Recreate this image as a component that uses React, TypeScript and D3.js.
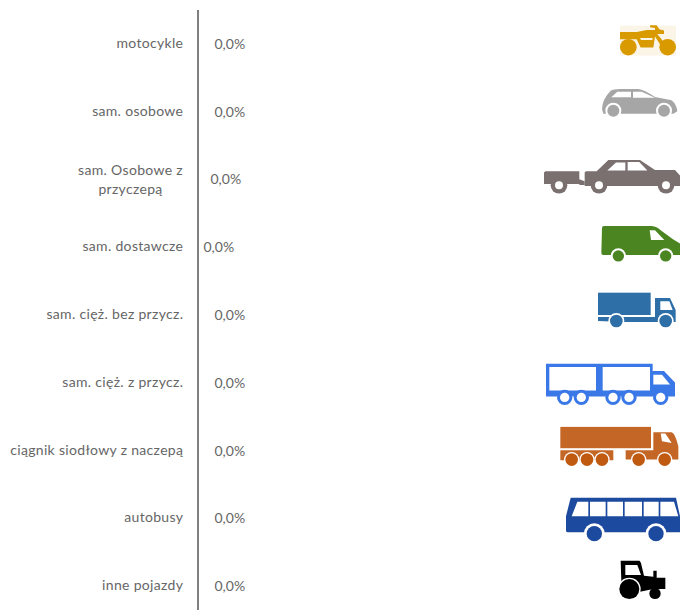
import React from "react";
import * as d3 from "d3";

const categories = [
  "motocykle",
  "sam. osobowe",
  "sam. Osobowe z przyczepą",
  "sam. dostawcze",
  "sam. cięż. bez przycz.",
  "sam. cięż. z przycz.",
  "ciągnik siodłowy z naczepą",
  "autobusy",
  "inne pojazdy",
];
const values = [0, 0, 0, 0, 0, 0, 0, 0, 0];
const wrappedLabels: Record<string, string[]> = {
  "sam. Osobowe z przyczepą": ["sam. Osobowe z", "przyczepą"],
};

const W = 680;
const H = 610;
const TEXT = "#666666";
const FONT = "Lato, Carlito, sans-serif";
const valueNudge = [0, 0, -4, -11, 0, 0, 0, 0, 0];
const iconDy = [-34, -102, -169.5, -37, -105, -173, -41, -108, -176];

type C = { x: number; y: number; r: number; f: string };
const ring = (x: number, y: number, outer: number, inner: number, a: string, b: string): C[] => [
  { x, y, r: outer, f: a },
  { x, y, r: inner, f: b },
];

function Icon({ i }: { i: number }) {
  const W_ = "#fff";
  if (i === 0) {
    const c = "#d99a00";
    return (
      <g>
        <rect x={240} y={47} width={168} height={90} fill="#fbf5e8" />
        <path fill={c} d="M240 66 H290 L320 60 L345 60 V54 L330 52 V46 H350 L358 58 L372 62 V72 H352 L374 100 L362 106 L345 80 L340 113 H302 L290 88 H240 Z" />
        <path fill="#fbf5e8" d="M300 84 H338 L337 90 H303 Z" />
        <circle cx={265} cy={112} r={25} fill={c} />
        <circle cx={383} cy={112} r={25} fill={c} />
      </g>
    );
  }
  if (i === 1) {
    const c = "#a6a6a6";
    return (
      <g>
        <path fill={c} d="M186 298 Q186 270 212 243 Q220 238 240 238 H295 Q312 240 345 262 L395 272 Q410 285 412 305 L400 312 H190 Z" />
        <path fill={W_} d="M214 263 L232 246 H273 V263 Z M279 246 H305 L345 264 H279 Z" />
        {[220, 372].flatMap((x) => ring(x, 303, 24, 18, W_, c)).map((k, j) => (
          <circle key={j} cx={k.x} cy={k.y} r={k.r} fill={k.f} />
        ))}
      </g>
    );
  }
  if (i === 2) {
    const c = "#7b7070";
    return (
      <g>
        <path fill={c} d="M16 484 H118 V508 L134 514 V525 H120 L116 522 H12 V488 Z" />
        <path fill={c} d="M138 484 H170 L205 450 H300 L345 480 H405 L420 497 V528 H134 V488 Z" />
        <path fill={W_} d="M202 482 L228 458 H256 V482 Z M263 456 H298 L322 482 H263 Z" />
        {[57, 177, 378].flatMap((x) => ring(x, 526, 25, 12, c, W_)).map((k, j) => (
          <circle key={j} cx={k.x} cy={k.y} r={k.r} fill={k.f} />
        ))}
      </g>
    );
  }
  if (i === 3) {
    const c = "#4a8522";
    return (
      <g>
        <path fill={c} d="M186 53 Q186 47 192 47 H335 Q350 48 362 60 L400 88 L420 100 V134 H190 Q184 134 184 128 Z" />
        <path fill={W_} d="M329 60 H345 L373 89 H333 Z" />
        {[235, 377].flatMap((x) => ring(x, 137, 23, 17, W_, c)).map((k, j) => (
          <circle key={j} cx={k.x} cy={k.y} r={k.r} fill={k.f} />
        ))}
      </g>
    );
  }
  if (i === 4) {
    const c = "#2e6fa7";
    return (
      <g>
        <rect x={174} y={248} width={158} height={67} fill={c} />
        <path fill={c} d="M174 321 H345 V264 H390 L407 300 V336 H250 L174 333 Z" />
        <path fill={W_} d="M361 274 H388 L398 300 H361 Z" />
        {[229, 377].flatMap((x) => ring(x, 333, 24, 19, W_, c)).map((k, j) => (
          <circle key={j} cx={k.x} cy={k.y} r={k.r} fill={k.f} />
        ))}
      </g>
    );
  }
  if (i === 5) {
    const c = "#3b78e7";
    return (
      <g>
        <path fill={c} d="M18 462 H176 V462 H338 V484 H372 L405 518 V560 H18 Z" />
        <path fill={W_} d="M28 472 H168 V542 H28 Z M188 472 H330 V542 H188 Z M340 495 H366 L390 524 H340 Z" />
        {[74, 124, 219, 267, 362].flatMap((x) => ring(x, 563, 23, 14, c, W_)).map((k, j) => (
          <circle key={j} cx={k.x} cy={k.y} r={k.r} fill={k.f} />
        ))}
      </g>
    );
  }
  if (i === 6) {
    const c = "#c46626";
    const d = "#c05a10";
    return (
      <g>
        <rect x={61} y={52} width={272} height={64} fill={c} />
        <path fill={c} d="M61 122 H220 V152 H61 Z" />
        <path fill={c} d="M257 122 H340 V68 H395 Q405 70 415 110 V150 H257 Z" />
        <path fill={W_} d="M362 72 H376 L395 100 L366 95 Z" />
        {[95, 141, 186, 296, 374].flatMap((x) => ring(x, 150, 23, 19, W_, d)).map((k, j) => (
          <circle key={j} cx={k.x} cy={k.y} r={k.r} fill={k.f} />
        ))}
      </g>
    );
  }
  if (i === 7) {
    const c = "#1b4a9e";
    return (
      <g>
        <path fill={c} d="M92 262 H408 L420 318 V366 H82 Q78 366 78 360 V318 Z" />
        <path fill={W_} d="M112 274 H145 V318 H95 Z M150 274 H197 V318 H150 Z M202 274 H249 V318 H202 Z M254 274 H306 V318 H254 Z M311 274 H356 V318 H311 Z M361 274 H402 L415 318 H361 Z" />
        {[163, 348].flatMap((x) => ring(x, 370, 31, 23, W_, c)).map((k, j) => (
          <circle key={j} cx={k.x} cy={k.y} r={k.r} fill={k.f} />
        ))}
      </g>
    );
  }
  const c = "#000";
  return (
    <g>
      <path fill={c} d="M242 452 H298 Q302 453 305 468 L312 497 L340 500 V482 H350 V503 H376 V537 H340 L300 545 H245 Z" />
      <path fill={W_} d="M256 465 H292 L303 495 H256 Z" />
      <circle cx={268} cy={537} r={34} fill={W_} />
      <circle cx={268} cy={537} r={30} fill={c} />
      <circle cx={345} cy={550} r={17} fill={c} />
    </g>
  );
}

export default function App() {
  const y = d3.scaleBand<string>().domain(categories).range([10, 620]);
  const x = d3.scaleLinear().domain([0, 1]).range([198, 660]);
  const fmt = (v: number) => v.toFixed(1).replace(".", ",") + "%";
  return (
    <svg
      width={W}
      height={H}
      viewBox={`0 0 ${W} ${H}`}
      style={{ position: "absolute", left: 0, top: 0, fontFamily: FONT }}
    >
      <rect width={W} height={H} fill="#fff" />
      {categories.map((cat, i) => {
        const cy = y(cat)! + y.bandwidth() / 2;
        const lines = wrappedLabels[cat];
        return (
          <g key={cat}>
            {lines ? (
              lines.map((l, j) => (
                <text key={l} x={130.5} y={cy - 7.5 + j * 19} textAnchor="middle" dominantBaseline="middle" fontSize={14} letterSpacing={0.32} fill={TEXT}>
                  {l}
                </text>
              ))
            ) : (
              <text x={183.3} y={cy + 0.5} textAnchor="end" dominantBaseline="middle" fontSize={14} letterSpacing={0.32} fill={TEXT}>
                {cat}
              </text>
            )}
            <text x={x(values[i]) + 16.5 + valueNudge[i]} y={cy + 1.5} dominantBaseline="middle" fontSize={14} fill={TEXT}>
              {fmt(values[i])}
            </text>
            <g transform={`translate(540 ${cy + iconDy[i]}) scale(${1 / 3})`}>
              <Icon i={i} />
            </g>
          </g>
        );
      })}
      <line x1={x(0)} x2={x(0)} y1={10} y2={H} stroke="#808080" strokeWidth={2} />
    </svg>
  );
}
